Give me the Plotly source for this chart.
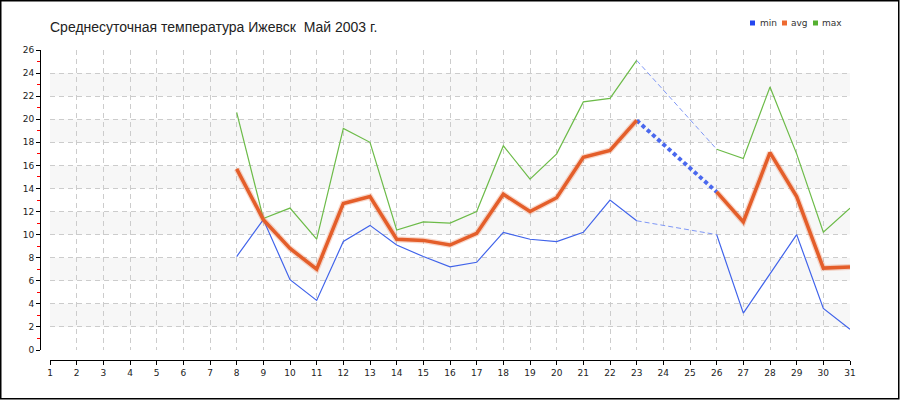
import plotly.graph_objects as go

# ---- data ----
days = list(range(1, 32))
t_min = [None] * 7 + [8.1, 11.3, 6.1, 4.3, 9.4, 10.8, 9.1, 8.1, 7.2, 7.6, 10.2, 9.6, 9.4, 10.2, 13.0, 11.2,
                      None, None, 10.0, 3.2, 6.6, 10.0, 3.6, 1.8]
t_avg = [None] * 7 + [15.7, 11.3, 8.8, 7.0, 12.7, 13.3, 9.6, 9.5, 9.1, 10.1, 13.5, 12.0, 13.2, 16.7, 17.3, 19.9,
                      None, None, 13.7, 11.1, 17.1, 13.3, 7.1, 7.2]
t_max = [None] * 7 + [20.6, 11.4, 12.3, 9.6, 19.2, 18.0, 10.4, 11.1, 11.0, 12.0, 17.7, 14.8, 17.0, 21.5, 21.8, 25.1,
                      None, None, 17.4, 16.6, 22.8, 17.0, 10.2, 12.3]
series_names = ["min", "avg", "max"]
y_ticks = list(range(0, 27, 2))
band_starts = [2, 6, 10, 14, 18, 22]
title_text = "Среднесуточная температура Ижевск  Май 2003 г."

C_MIN = "#4063ea"
C_AVG = "#e45e2a"
C_MAX = "#6cbb48"
C_GAP_THIN = "#7f97f6"
C_GAP_AVG = "#4a68ee"
LEG_COLORS = ["#2346f0", "#ee6a30", "#55b030"]

# layout geometry (pixels)
W, H = 900, 400
ML, MR, MT, MB = 40, 50, 50, 40
PW, PH = W - ML - MR, H - MT - MB


def px2paper(px, py):
    return (px - ML) / PW, (H - MB - py) / PH


def gaps(xs, ys):
    """Return (x, y) lists for segments bridging missing values (None separated)."""
    gx, gy = [], []
    idx = [i for i, v in enumerate(ys) if v is not None]
    for a, b in zip(idx, idx[1:]):
        if b - a > 1:
            gx += [xs[a], xs[b], None]
            gy += [ys[a], ys[b], None]
    return gx, gy


fig = go.Figure()

# background bands
for b in band_starts:
    fig.add_shape(type="rect", xref="x domain", yref="y", x0=0, x1=1, y0=b, y1=b + 2,
                  fillcolor="#f7f7f7", line=dict(width=0), layer="below")

# gap bridges
gx, gy = gaps(days, t_max)
fig.add_trace(go.Scatter(x=gx, y=gy, mode="lines", hoverinfo="skip",
                         line=dict(color=C_GAP_THIN, width=1, dash="5px,3px")))
gx, gy = gaps(days, t_min)
fig.add_trace(go.Scatter(x=gx, y=gy, mode="lines", hoverinfo="skip",
                         line=dict(color=C_GAP_THIN, width=1, dash="5px,3px")))
gx, gy = gaps(days, t_avg)
fig.add_trace(go.Scatter(x=gx, y=gy, mode="lines", hoverinfo="skip",
                         line=dict(color=C_GAP_AVG, width=4, dash="4px,3px")))

# main lines
fig.add_trace(go.Scatter(x=days, y=t_max, mode="lines", name="max",
                         line=dict(color=C_MAX, width=1.2)))
fig.add_trace(go.Scatter(x=days, y=t_min, mode="lines", name="min",
                         line=dict(color=C_MIN, width=1.2)))
fig.add_trace(go.Scatter(x=days, y=t_avg, mode="lines", hoverinfo="skip",
                         line=dict(color="rgba(228,94,42,0.25)", width=6)))
fig.add_trace(go.Scatter(x=days, y=t_avg, mode="lines", name="avg",
                         line=dict(color=C_AVG, width=3.5)))

# custom legend (squares + labels)
leg_sq_x = [750, 782, 813]
leg_txt_x = [758, 789, 820]
for name, col, sx, tx in zip(series_names, LEG_COLORS, leg_sq_x, leg_txt_x):
    x0, y0 = px2paper(sx, 25.5)
    x1, y1 = px2paper(sx + 5, 20.5)
    fig.add_shape(type="rect", xref="paper", yref="paper", x0=x0, x1=x1, y0=y0, y1=y1,
                  fillcolor=col, line=dict(width=0))
    ax, ay = px2paper(tx, 23)
    fig.add_annotation(text=name, xref="paper", yref="paper", x=ax, y=ay, xanchor="left",
                       yanchor="middle", showarrow=False,
                       font=dict(size=9, family="DejaVu Sans", color="#333333"))

# outer frame
fx0, fy0 = px2paper(0.75, 0.75)
fx1, fy1 = px2paper(898.75, 398.75)
fig.add_shape(type="rect", xref="paper", yref="paper", x0=fx0, x1=fx1, y0=fy0, y1=fy1,
              line=dict(color="black", width=1.5), fillcolor="rgba(0,0,0,0)")

grid = dict(showgrid=True, gridcolor="#cccccc", griddash="5px,4px", gridwidth=1, zeroline=False)
fig.update_layout(
    width=W, height=H,
    margin=dict(l=ML, r=MR, t=MT, b=MB),
    showlegend=False,
    paper_bgcolor="white", plot_bgcolor="white",
    font=dict(family="DejaVu Sans", size=9, color="#222222"),
    title=dict(text=title_text, xref="container", yref="container", x=50 / W, y=1 - 27 / H,
               xanchor="left", yanchor="middle",
               font=dict(family="Liberation Sans", size=14, color="#222222")),
    xaxis=dict(domain=[10 / PW, 1], range=[1, 31], anchor="free", position=0,
               tickmode="array", tickvals=days, ticktext=[str(d) for d in days],
               showline=True, linecolor="black", linewidth=1,
               ticks="outside", ticklen=4, tickcolor="black",
               tickfont=dict(size=9, family="DejaVu Sans"), **grid),
    yaxis=dict(domain=[10 / PH, 1], range=[0, 26], anchor="free", position=0,
               tickmode="array", tickvals=y_ticks,
               showline=True, linecolor="black", linewidth=1,
               ticks="outside", ticklen=4, tickcolor="black",
               minor=dict(tickmode="array", tickvals=list(range(1, 26, 2)), ticks="outside",
                          ticklen=3, tickcolor="red", showgrid=False),
               tickfont=dict(size=9, family="DejaVu Sans"), **grid),
)
fig.write_html("out.html", config={"displayModeBar": False},
               post_script="document.body.style.margin='0px';")
